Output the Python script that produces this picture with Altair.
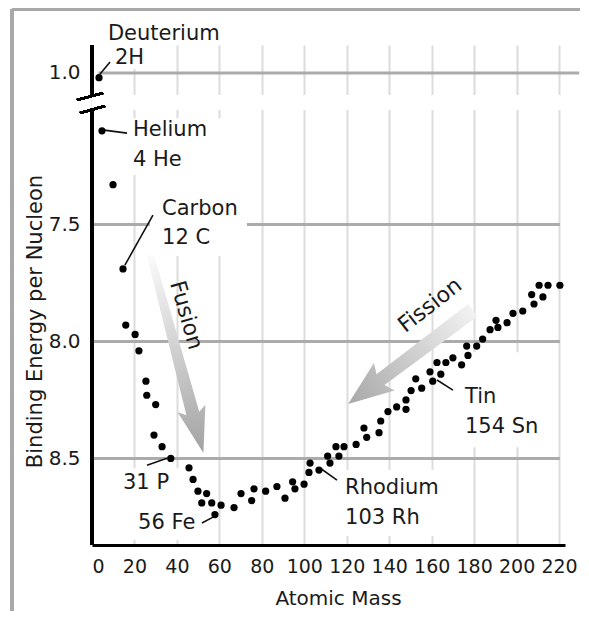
import altair as alt
import pandas as pd

# ---- data ----
mass = [3.3, 4.7, 9.9, 14.6, 15.9, 20.3, 22.1, 25.4, 25.8, 30.0,
        29.2, 33.0, 37.1, 45.7, 47.6, 49.9, 54.0, 51.7, 56.4, 60.8,
        57.9, 66.9, 70.2, 75.2, 76.3, 81.8, 87.1, 90.9, 94.5, 95.6,
        99.9, 102.7, 102.2, 106.9, 111.0, 112.1, 114.9, 116.3, 118.7, 124.4,
        128.1, 129.4, 135.2, 136.0, 139.4, 143.5, 147.9, 147.9, 150.3, 152.5,
        155.3, 159.2, 160.5, 164.3, 162.5, 166.7, 170.0, 174.1, 176.5, 177.1,
        181.2, 184.0, 187.5, 190.3, 191.2, 195.5, 198.3, 202.9, 207.1, 208.2,
        210.6, 212.4, 214.8, 220.4]
binding = [1.02, 7.10, 7.33, 7.69, 7.93, 7.97, 8.04, 8.17, 8.23, 8.27,
           8.40, 8.45, 8.50, 8.54, 8.59, 8.64, 8.65, 8.69, 8.69, 8.70,
           8.74, 8.71, 8.65, 8.68, 8.63, 8.64, 8.62, 8.67, 8.60, 8.63,
           8.61, 8.52, 8.56, 8.55, 8.49, 8.52, 8.45, 8.49, 8.45, 8.44,
           8.37, 8.41, 8.39, 8.34, 8.30, 8.28, 8.25, 8.29, 8.21, 8.16,
           8.20, 8.13, 8.17, 8.14, 8.09, 8.09, 8.07, 8.10, 8.02, 8.06,
           8.02, 7.99, 7.95, 7.91, 7.94, 7.92, 7.88, 7.87, 7.80, 7.84,
           7.76, 7.81, 7.76, 7.76]

x_ticks = [0, 20, 40, 60, 80, 100, 120, 140, 160, 180, 200, 220]
y_ticks = [1.0, 7.5, 8.0, 8.5]
grid_lower = [7.5, 8.0, 8.5]

label_text = ["Deuterium", "2H", "Helium", "4 He", "Carbon", "12 C",
              "31 P", "56 Fe", "Rhodium", "103 Rh", "Tin", "154 Sn"]
label_x = [7.5, 10.8, 19.3, 19.3, 33.0, 33.0, 14.6, 21.7, 119.2, 119.2, 175.7, 175.7]
label_y = [0.833, 0.936, 7.097, 7.225, 7.435, 7.558, 8.605, 8.776, 8.627, 8.755, 8.238, 8.366]

leader_x1 = [3.8, 5.7, 15.5, 25.9, 51.8, 107.4, 162.5]
leader_y1 = [1.004, 7.097, 7.674, 8.529, 8.776, 8.541, 8.165]
leader_x2 = [8.5, 16.5, 28.7, 35.3, 57.0, 115.4, 170.0]
leader_y2 = [0.953, 7.110, 7.460, 8.499, 8.751, 8.593, 8.208]

# white boxes behind labels + the axis-break band (data units)
box_x1 = [9.4, 16.0, 27.3, 13.2, 116.8, 171.5, 0.0]
box_x2 = [32.0, 61.2, 73.0, 50.9, 166.3, 214.8, 222.8]
box_y1 = [0.880, 7.046, 7.289, 8.541, 8.550, 8.046, 1.094]
box_y2 = [0.983, 7.289, 7.635, 8.849, 8.832, 8.452, 7.011]

FONT = "DejaVu Sans"
TXT = "#1a1a1a"

xscale = alt.Scale(domain=[0, 222.8], nice=False, zero=False)
# broken axis: upper piece around 1.0, lower piece 7.0 .. 8.87 (inverted)
yscale = alt.Scale(type="linear", domain=[0.880, 1.103, 7.011, 8.870],
                   range=[0, 52, 65, 500], nice=False, zero=False)

AX = alt.Axis(values=x_ticks, title="Atomic Mass", grid=True,
              gridColor="#dcdcdc", gridWidth=2, domainColor="black",
              domainWidth=3, ticks=False, labelPadding=12, labelFontSize=19,
              titleX=246, titleY=53, titleBaseline="middle", titleAlign="center")
AY = alt.Axis(values=y_ticks, format=".1f", title="Binding Energy per Nucleon",
              domain=False, ticks=False, grid=False, labelPadding=12,
              titleX=-57, titleY=276, titleAngle=270, titleFontSize=21,
              titleBaseline="middle", titleAlign="center")


def X(f):
    return alt.X(f, scale=xscale, axis=AX)


def Y(f):
    return alt.Y(f, scale=yscale, axis=AY)


pts = pd.DataFrame({"mass": mass, "be": binding})
labels = pd.DataFrame({"x": label_x, "y": label_y, "t": label_text})
leaders = pd.DataFrame({"x1": leader_x1, "y1": leader_y1, "x2": leader_x2, "y2": leader_y2})
boxes = pd.DataFrame({"x1": box_x1, "x2": box_x2, "y1": box_y1, "y2": box_y2})
grid_df = pd.DataFrame({"g": grid_lower, "a": [0.0] * 3, "b": [220.4] * 3})
grid1_df = pd.DataFrame({"g": [1.0], "a": [3.0], "b": [229.5]})

hgrid = alt.Chart(grid_df).mark_rule(color="#ababab", strokeWidth=3).encode(
    y=Y("g:Q"), x=X("a:Q"), x2="b:Q")
hgrid1 = alt.Chart(grid1_df).mark_rule(color="#ababab", strokeWidth=3).encode(
    y=Y("g:Q"), x=X("a:Q"), x2="b:Q")

white = alt.Chart(boxes).mark_rect(color="white").encode(
    x=X("x1:Q"), x2="x2:Q", y=Y("y1:Q"), y2="y2:Q")


def grad(c0, c1):
    return {"gradient": "linear", "x1": 0, "y1": 0, "x2": 0, "y2": 1,
            "stops": [{"offset": 0, "color": c0}, {"offset": 1, "color": c1}]}


fusion_path = "M -0.035 -1 L 0.035 -1 L 0.065 0.6 L 0.14 0.55 L 0 1 L -0.14 0.55 L -0.065 0.6 Z"
fission_path = "M -0.1 -1 L 0.1 -1 L 0.085 0.48 L 0.22 0.42 L 0 1 L -0.22 0.42 L -0.085 0.48 Z"

fusion_arrow = alt.Chart(pd.DataFrame({"x": [40.0], "y": [8.054]})).mark_point(
    shape=fusion_path, size=42025, angle=345, filled=True, opacity=1,
    fill=grad("#fbfbfb", "#a2a2a2"), strokeWidth=0).encode(x=X("x:Q"), y=Y("y:Q"))
fission_arrow = alt.Chart(pd.DataFrame({"x": [150.0], "y": [8.067]})).mark_point(
    shape=fission_path, size=24336, angle=53, filled=True, opacity=1,
    fill=grad("#f2f2f2", "#a8a8a8"), strokeWidth=0).encode(x=X("x:Q"), y=Y("y:Q"))

yaxis_up = alt.Chart(pts).mark_rule(color="black", strokeWidth=3).encode(
    x=alt.value(0), y=alt.value(0), y2=alt.value(51))
yaxis_lo = alt.Chart(pts).mark_rule(color="black", strokeWidth=3).encode(
    x=alt.value(0), y=alt.value(63), y2=alt.value(500))
brk1 = alt.Chart(pts).mark_rule(color="black", strokeWidth=2).encode(
    x=alt.value(-15), x2=alt.value(11), y=alt.value(55), y2=alt.value(48))
brk2 = alt.Chart(pts).mark_rule(color="black", strokeWidth=2).encode(
    x=alt.value(-12), x2=alt.value(13), y=alt.value(68), y2=alt.value(61))

frame_top = alt.Chart(pts).mark_rule(color="#a8a8a8", strokeWidth=2.5).encode(
    x=alt.value(-80), x2=alt.value(488), y=alt.value(-36))
frame_left = alt.Chart(pts).mark_rule(color="#a8a8a8", strokeWidth=2.5).encode(
    x=alt.value(-80), y=alt.value(-36), y2=alt.value(566))

lead = alt.Chart(leaders).mark_rule(color="#111", strokeWidth=1.6).encode(
    x=X("x1:Q"), x2="x2:Q", y=Y("y1:Q"), y2="y2:Q")

dots = alt.Chart(pts).mark_circle(color="black", size=52, opacity=1).encode(
    x=X("mass:Q"), y=Y("be:Q"))

texts = alt.Chart(labels).mark_text(align="left", baseline="middle", font=FONT,
                                    fontSize=21, color=TXT).encode(
    x=X("x:Q"), y=Y("y:Q"), text="t:N")

fusion_txt = alt.Chart(pd.DataFrame({"x": [44.5], "y": [7.888], "t": ["Fusion"]})).mark_text(
    align="center", baseline="middle", font=FONT, fontSize=22, color=TXT, angle=74).encode(
    x=X("x:Q"), y=Y("y:Q"), text="t:N")
fission_txt = alt.Chart(pd.DataFrame({"x": [159.2], "y": [7.845], "t": ["Fission"]})).mark_text(
    align="center", baseline="middle", font=FONT, fontSize=22, color=TXT, angle=322).encode(
    x=X("x:Q"), y=Y("y:Q"), text="t:N")

chart = alt.layer(
    hgrid, hgrid1, white, fusion_arrow, fission_arrow,
    yaxis_up, yaxis_lo, brk1, brk2, frame_top, frame_left,
    lead, dots, texts, fusion_txt, fission_txt,
).properties(
    width=473, height=500,
    padding={"left": 84, "top": 37, "right": 16, "bottom": 66},
    autosize=alt.AutoSizeParams(type="none"),
).configure_view(stroke=None).configure_axis(
    labelFont=FONT, labelFontSize=20, labelColor=TXT,
    titleFont=FONT, titleFontSize=20, titleFontWeight="normal", titleColor=TXT,
)

chart.save("out.html", embed_options={"renderer": "svg", "actions": False})
